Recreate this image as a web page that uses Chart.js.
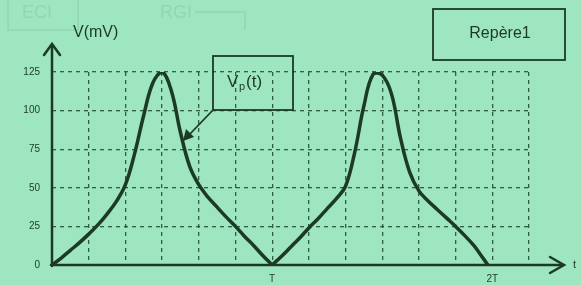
<!DOCTYPE html>
<html>
<head>
<meta charset="utf-8">
<script src="https://cdn.jsdelivr.net/npm/chart.js@4"></script>
<style>
  html, body { margin: 0; padding: 0; background: #9de6bf; }
  #wrap { width: 581px; height: 285px; position: relative; }
</style>
</head>
<body>
<div id="wrap"><canvas id="myChart" width="581" height="285"></canvas></div>
<script>
// time in grid divisions (T = 6 divisions), voltage in mV
// first period
var tFirst = [0, 0.25, 0.5, 0.75, 1, 1.25, 1.5, 1.75, 2, 2.25, 2.5, 2.75, 3, 3.25, 3.5, 3.75, 4, 4.25, 4.5, 4.75, 5, 5.25, 5.5, 5.75, 6];
var vFirst = [0, 4.5, 9.5, 14.5, 20, 26, 33, 41, 52, 72, 97, 118, 125, 113, 86, 64, 52, 44, 37.5, 31, 25, 18.5, 12.5, 6, 0];
// second period
var tSecond = [6, 6.25, 6.5, 6.75, 7, 7.25, 7.5, 7.75, 8, 8.25, 8.5, 8.75, 9, 9.25, 9.5, 9.75, 10, 10.25, 10.5, 10.75, 11, 11.25, 11.5, 11.7, 11.88];
var vSecond = [0, 5.5, 11.5, 17.5, 24, 30, 36.5, 43, 51, 73, 103, 123.5, 123, 111, 82, 60, 48, 41.5, 36, 30.5, 25, 19, 12.5, 6, 0];
var yTicks = [0, 25, 50, 75, 100, 125];
var xTickLabels = { 6: 'T', 12: '2T' };

var ink = '#1c3a26';
var gridInk = 'rgba(30,70,45,0.85)';
var font = '"Liberation Sans", Arial, sans-serif';

function toPoints(ts, vs) {
  return ts.map(function(t, i) { return { x: t, y: vs[i] }; });
}

function curve(ts, vs) {
  return {
    data: toPoints(ts, vs),
    showLine: true,
    borderColor: ink,
    borderWidth: 3.5,
    pointRadius: 0,
    tension: 0.4,
    fill: false
  };
}

var extras = {
  id: 'extras',
  afterDraw: function(chart) {
    var c = chart.ctx;
    var xs = chart.scales.x, ys = chart.scales.y;
    var x0 = xs.getPixelForValue(0), y0 = ys.getPixelForValue(0);
    c.save();

    // faint show-through text from the page behind
    c.fillStyle = 'rgba(120,185,150,0.3)';
    c.strokeStyle = 'rgba(120,185,150,0.3)';
    c.lineWidth = 1.5;
    c.font = '18px ' + font;
    c.fillText('ECI', 22, 18);
    c.fillText('RGI', 160, 18);
    c.strokeRect(8, -4, 70, 34);
    c.beginPath(); c.moveTo(195, 12); c.lineTo(245, 12); c.lineTo(245, 30); c.stroke();

    // axes with arrows
    c.strokeStyle = ink;
    c.fillStyle = ink;
    c.lineWidth = 2.5;
    c.lineCap = 'round';
    c.beginPath(); c.moveTo(x0, y0 + 1); c.lineTo(x0, 45); c.stroke();
    c.beginPath(); c.moveTo(x0 - 8, 55); c.lineTo(x0, 44); c.lineTo(x0 + 8, 55); c.stroke();
    c.beginPath(); c.moveTo(x0 - 1, y0); c.lineTo(563, y0); c.stroke();
    c.beginPath(); c.moveTo(550, y0 - 8); c.lineTo(564, y0); c.lineTo(550, y0 + 8); c.stroke();

    c.font = '11px ' + font;
    c.textAlign = 'left';
    c.textBaseline = 'middle';
    c.fillText('t', 573, y0);

    // axis title
    c.font = '16px ' + font;
    c.fillText('V(mV)', 73, 33);

    // Vp(t) label box with arrow
    c.lineWidth = 1.8;
    c.lineCap = 'butt';
    c.strokeRect(213, 56, 80, 54);
    c.font = '17px ' + font;
    c.textAlign = 'left';
    c.fillText('V', 227, 82);
    c.font = '11px ' + font;
    c.fillText('p', 239, 87);
    c.font = '17px ' + font;
    c.fillText('(t)', 246, 82);
    c.beginPath(); c.moveTo(213, 110); c.lineTo(188, 136); c.stroke();
    c.beginPath(); c.moveTo(183, 141); c.lineTo(186, 129); c.lineTo(194, 137); c.closePath(); c.fill();

    // Repere box
    c.strokeRect(433, 9, 132, 51);
    c.font = '16px ' + font;
    c.textAlign = 'center';
    c.fillText('Repère1', 500, 34);

    c.restore();
  }
};

var ctx = document.getElementById('myChart').getContext('2d');
var myChart = new Chart(ctx, {
  type: 'scatter',
  data: {
    datasets: [curve(tFirst, vFirst), curve(tSecond, vSecond)]
  },
  options: {
    animation: false,
    responsive: false,
    layout: { padding: { top: 72, right: 52, left: 0, bottom: 0 } },
    plugins: { legend: { display: false }, tooltip: { enabled: false } },
    scales: {
      x: {
        type: 'linear', min: 0, max: 13,
        afterFit: function(s) { s.height = 20; },
        afterBuildTicks: function(s) {
          s.ticks = [];
          for (var i = 0; i <= 13; i++) s.ticks.push({ value: i });
        },
        border: { display: false, dash: [4, 4] },
        grid: { color: gridInk, lineWidth: 1.3, drawTicks: false },
        ticks: {
          padding: 8, color: ink, font: { family: font, size: 10 },
          autoSkip: false, maxRotation: 0,
          callback: function(v) { return xTickLabels[v] || ''; }
        }
      },
      y: {
        min: 0, max: 125,
        afterFit: function(s) { s.width = 52; },
        afterBuildTicks: function(s) {
          s.ticks = yTicks.map(function(v) { return { value: v }; });
        },
        border: { display: false, dash: [4, 4] },
        grid: { color: gridInk, lineWidth: 1.3, drawTicks: false },
        ticks: { padding: 12, color: ink, font: { family: font, size: 10 } }
      }
    }
  },
  plugins: [extras]
});
</script>
</body>
</html>
